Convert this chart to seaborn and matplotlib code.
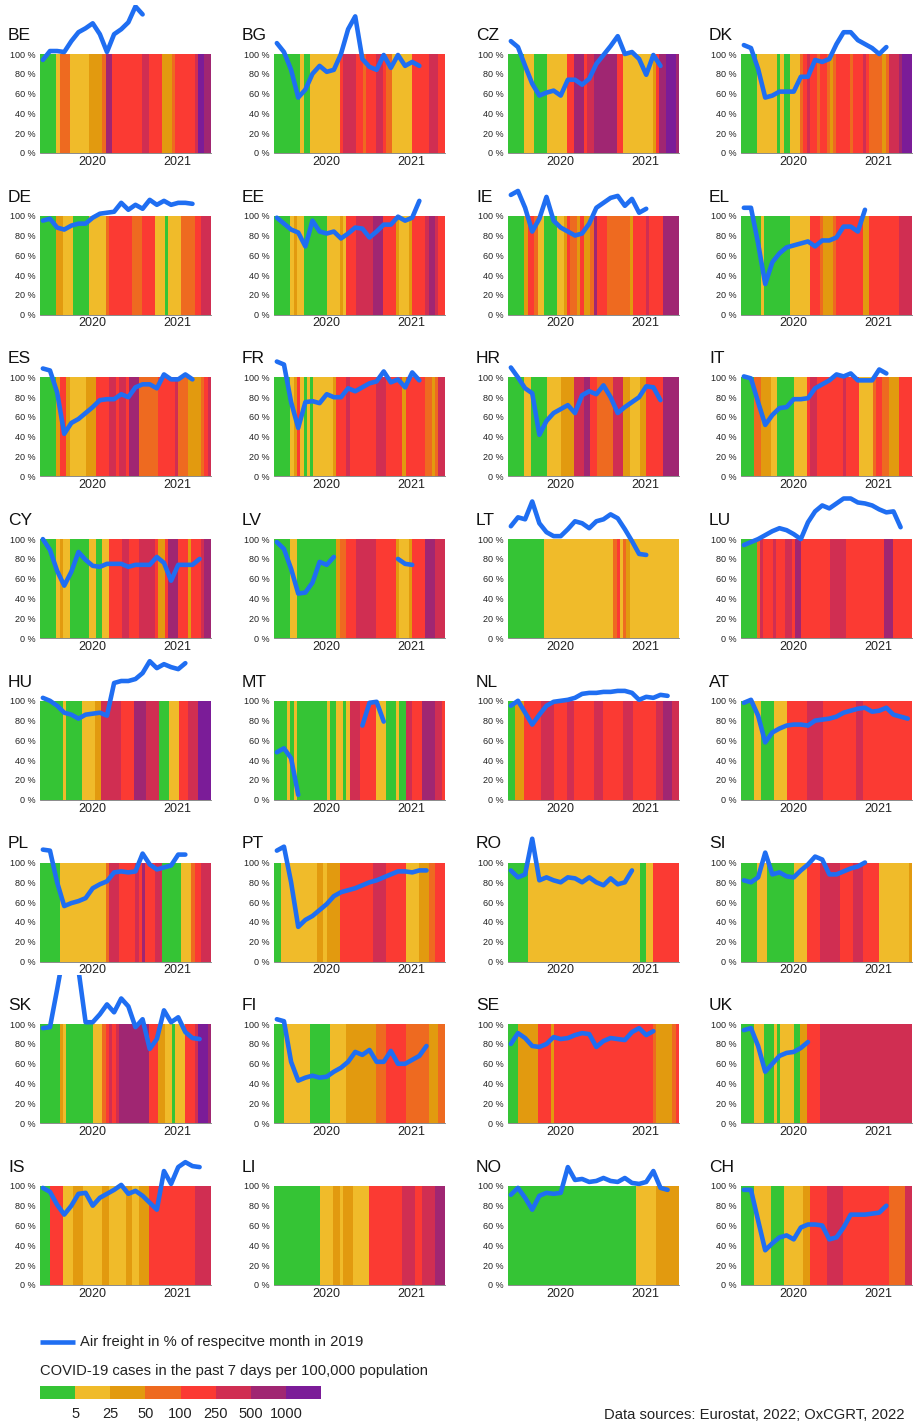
import numpy as np
import matplotlib.pyplot as plt
import seaborn as sns
from matplotlib.colors import ListedColormap
from matplotlib.transforms import Bbox, TransformedBbox

sns.set_style("white")
plt.rcParams["font.family"] = ["Liberation Sans", "DejaVu Sans"]

nan = np.nan

# COVID-19 class per fortnight, Jan 2020 - Dec 2021
# 0: <5, 1: 5-25, 2: 25-50, 3: 50-100, 4: 100-250, 5: 250-500, 6: 500-1000, 7: >1000
# air freight: % of the same month in 2019, one value per month from Jan 2020
be_cases = "00000" "1" "333" "111111" "2222" "3" "66" "444444444" "55" "4444" "222" "3" "444444" "5" "77" "66"
be_freight = [94, 103, 103, 102, 113, 122, 126, 131, 120, 102, 120, 125, 132, 148, 140]

bg_cases = "00000000" "1" "00" "111111111" "4" "5555" "44" "3" "444" "55" "43" "3" "111111" "44444" "555" "44"
bg_freight = [111, 102, 84, 56, 64, 80, 88, 82, 84, 100, 125, 138, 95, 87, 84, 99, 86, 99, 88, 92, 88]

cz_cases = "00000" "111" "0000" "111111" "44" "666" "4" "55" "6666666" "44" "111111111" "2" "4" "66" "777" "6"
cz_freight = [113, 107, 88, 70, 58, 61, 63, 58, 74, 74, 69, 75, 90, 99, 108, 118, 100, 102, 95, 79, 99, 88]

dk_cases = "00000" "111111" "0" "1" "00" "111" "3" "4" "5" "44" "3" "44" "3" "2" "3" "4444" "3" "444" "5" "4" "3333" "2" "3" "55" "5" "6" "77" "7"
dk_freight = [109, 106, 85, 56, 58, 62, 62, 62, 77, 77, 94, 92, 95, 110, 122, 122, 114, 110, 106, 100, 107]

de_cases = "00000" "22" "111" "00000" "11111" "3" "4444444" "333" "4444" "111" "0" "1111" "3333" "44" "555"
de_freight = [95, 97, 88, 86, 90, 92, 92, 98, 102, 103, 104, 113, 106, 111, 107, 116, 111, 115, 111, 113, 113, 112]

ee_cases = "00000" "1" "2" "11" "0000000" "1111" "2" "1" "444" "55555" "666" "4444" "2" "111" "2" "4444" "5" "66" "5" "44"
ee_freight = [98, 92, 86, 83, 69, 95, 84, 82, 84, 77, 82, 88, 87, 78, 84, 91, 91, 99, 95, 98, 115]

ie_cases = "00000" "2" "44" "3" "11" "0000" "11" "2" "4" "33" "2" "4" "22" "3" "6" "444" "3333333" "2" "4444" "5" "4444" "66666"
ie_freight = [121, 125, 108, 84, 97, 119, 95, 88, 84, 80, 82, 92, 108, 113, 118, 120, 110, 117, 103, 107]

el_cases = "000000" "1" "00000000" "111111" "444" "3" "222" "3" "4" "4444444" "22" "444444444" "5555"
el_freight = [108, 108, 72, 31, 53, 62, 68, 70, 72, 74, 69, 75, 75, 78, 89, 89, 84, 106]

es_cases = "00000" "2" "44" "2" "11111" "222" "4444" "55" "4" "55" "4" "666" "333333" "44444" "5" "333" "2222" "34" "5"
es_freight = [109, 107, 85, 43, 54, 58, 64, 70, 77, 78, 78, 83, 80, 90, 93, 93, 89, 103, 98, 98, 103, 98]

fr_cases = "00000" "1" "2" "4" "1" "0101" "11111" "2" "444" "5" "44444444" "555" "44444" "2" "444444" "33" "2" "3" "55"
fr_freight = [116, 113, 75, 49, 75, 76, 74, 83, 80, 80, 89, 86, 90, 94, 96, 106, 95, 98, 90, 105, 97]

hr_cases = "00000" "11" "00000" "1111" "2222" "555" "66" "44" "33333" "555" "22" "111" "22" "44444" "66666"
hr_freight = [110, 100, 89, 84, 42, 56, 64, 68, 72, 64, 82, 86, 83, 92, 80, 64, 70, 75, 80, 91, 90, 77]

it_cases = "0000" "33" "222" "11" "00000" "1111" "4" "55" "44444444" "5" "4444" "1111" "3" "44" "33" "222" "4444"
it_freight = [101, 99, 75, 52, 62, 69, 70, 78, 78, 79, 89, 93, 97, 103, 101, 104, 97, 97, 97, 108, 104]

cy_cases = "00000" "1" "2" "11" "000000" "11" "00" "11" "4444" "55" "444" "55555" "4" "22" "4" "666" "444" "2" "444" "5" "66"
cy_freight = [100, 89, 68, 53, 67, 87, 79, 73, 72, 75, 75, 75, 72, 74, 74, 74, 82, 76, 58, 74, 74, 74, 80]

lv_cases = "00000" "11" "000000000000" "2" "33" "444" "555555" "444444" "2111" "2" "4444" "666" "555"
lv_freight = [97, 90, 70, 45, 46, 56, 77, 74, 82, nan, nan, nan, nan, nan, nan, nan, nan, 80, 75, 74]

lt_cases = "00000000000" "111111111111111111111" "3" "4" "1" "3" "2" "111111111111111"
lt_freight = [113, 122, 120, 138, 116, 107, 103, 103, 110, 118, 116, 111, 118, 120, 125, 121, 110, 98, 85, 84]

lu_cases = "00000" "3544454" "4455" "466444444444" "55555" "444444444444" "666" "444444"
lu_freight = [94, 97, 100, 104, 108, 111, 109, 105, 100, 117, 128, 134, 131, 136, 141, 141, 137, 136, 134, 130, 127, 128, 112]

hu_cases = "0000000" "1" "00000" "1111" "22" "555555" "4444" "6666" "5555" "000" "111" "444" "555" "7777"
hu_freight = [103, 100, 95, 88, 86, 82, 86, 87, 88, 85, 118, 120, 120, 122, 128, 140, 133, 137, 134, 132, 138]

mt_cases = "0000101000000000100110155544444111000100554446666554"
mt_freight = [48, 52, 42, 5, nan, nan, nan, nan, nan, nan, nan, nan, 75, 98, 99, 79]

nl_cases = "0022244444555544445544444455544444455544444445566655"
nl_freight = [95, 100, 88, 76, 86, 95, 99, 100, 101, 103, 107, 108, 108, 109, 109, 110, 110, 108, 101, 104, 103, 106, 105]

at_cases = "0000110000111144444455555444444444455444444444444444"
at_freight = [98, 101, 85, 58, 68, 72, 75, 76, 76, 75, 80, 81, 82, 84, 88, 90, 92, 93, 89, 90, 93, 86, 84, 82]

pl_cases = "000000" "11111111111111" "3" "555" "44444" "5" "4" "6" "444" "55" "000000" "111" "3" "44" "555"
pl_freight = [113, 112, 80, 56, 59, 61, 64, 74, 78, 81, 90, 91, 90, 91, 109, 98, 93, 95, 97, 108, 108]

pt_cases = "0011111111111221222244444444445555444444111122233444"
pt_freight = [112, 116, 80, 35, 42, 46, 52, 58, 66, 70, 72, 74, 77, 80, 82, 85, 88, 91, 91, 90, 92, 92]

ro_cases = "0000001111111111111111111111111111111111001144444444"
ro_freight = [92, 85, 88, 124, 82, 85, 82, 80, 85, 84, 80, 85, 80, 77, 84, 78, 80, 92]

si_cases = "0000011100000000111144445555554444555444441111111112"
si_freight = [82, 80, 85, 110, 88, 90, 86, 85, 92, 98, 106, 103, 88, 88, 91, 94, 96, 100]

sk_cases = "000000" "2" "1" "00000000" "111" "34" "545" "666666666" "444" "22" "11" "0" "111" "444" "5" "777" "6"
sk_freight = [96, 97, 135, 175, 175, 155, 102, 102, 110, 120, 112, 126, 118, 97, 105, 75, 85, 114, 102, 107, 92, 86, 85]

fi_cases = "0001111111100000011111222222222333444444333333322233"
fi_freight = [105, 103, 62, 43, 46, 48, 46, 47, 52, 56, 62, 72, 69, 74, 62, 62, 73, 60, 60, 64, 68, 78]

se_cases = "0002222224444244444444444444444444444444444432222234"
se_freight = [80, 91, 86, 78, 77, 80, 87, 85, 86, 89, 91, 90, 77, 83, 86, 85, 84, 92, 96, 89, 93]

uk_cases = "0000111000101111002244445555555555555555555555555555"
uk_freight = [94, 96, 78, 52, 60, 68, 71, 72, 76, 82]

is_cases = "0004444111222111111221111122112224444444444444455555"
is_freight = [98, 94, 81, 71, 80, 92, 93, 80, 88, 92, 96, 101, 92, 95, 90, 83, 76, 115, 102, 119, 124, 120, 119]

li_cases = "0000000000000011112212221111144444444445555445555666"
li_freight = []

no_cases = "0000000000000000000000000000000000000001111112222222"
no_freight = [91, 98, 88, 76, 90, 93, 92, 93, 119, 106, 107, 104, 105, 108, 105, 104, 108, 103, 102, 104, 115, 98, 96]

ch_cases = "0000111110000111111224444455555444444444444443333355"
ch_freight = [96, 96, 65, 35, 42, 48, 50, 46, 58, 61, 61, 60, 46, 48, 58, 71, 71, 71, 72, 73, 80]

panels = [
    ("BE", be_cases, be_freight), ("BG", bg_cases, bg_freight), ("CZ", cz_cases, cz_freight), ("DK", dk_cases, dk_freight),
    ("DE", de_cases, de_freight), ("EE", ee_cases, ee_freight), ("IE", ie_cases, ie_freight), ("EL", el_cases, el_freight),
    ("ES", es_cases, es_freight), ("FR", fr_cases, fr_freight), ("HR", hr_cases, hr_freight), ("IT", it_cases, it_freight),
    ("CY", cy_cases, cy_freight), ("LV", lv_cases, lv_freight), ("LT", lt_cases, lt_freight), ("LU", lu_cases, lu_freight),
    ("HU", hu_cases, hu_freight), ("MT", mt_cases, mt_freight), ("NL", nl_cases, nl_freight), ("AT", at_cases, at_freight),
    ("PL", pl_cases, pl_freight), ("PT", pt_cases, pt_freight), ("RO", ro_cases, ro_freight), ("SI", si_cases, si_freight),
    ("SK", sk_cases, sk_freight), ("FI", fi_cases, fi_freight), ("SE", se_cases, se_freight), ("UK", uk_cases, uk_freight),
    ("IS", is_cases, is_freight), ("LI", li_cases, li_freight), ("NO", no_cases, no_freight), ("CH", ch_cases, ch_freight),
]

class_colors = ["#35c435", "#f0bb2a", "#e29a0f", "#ee6a20", "#fb3a33", "#d02e52", "#a02672", "#7b1c98"]
class_bounds = ["5", "25", "50", "100", "250", "500", "1000"]
years = ["2020", "2021"]
BLUE = "#1f6ef2"
TXT = "#222222"

cmap = ListedColormap(class_colors)
W, H = 914, 1423
fig = plt.figure(figsize=(W / 100, H / 100), dpi=100)

col_left = [40, 274, 508, 741]
box_w, box_h = 171, 99


def draw_panel(ax, code, cases, freight):
    row = np.array([[int(c) for c in cases]])
    n = row.shape[1]
    sns.heatmap(row, ax=ax, cmap=cmap, vmin=-0.5, vmax=7.5, cbar=False,
                xticklabels=False, yticklabels=False)
    ax.set_xlim(0, n)
    ax.set_ylim(0, 1)

    ax.set_yticks(np.linspace(0, 1, 6))
    ax.set_yticklabels([f"{v} %" for v in range(0, 101, 20)], fontsize=6.5, color=TXT)
    ax.tick_params(axis="y", length=0, pad=3)
    ax.set_xticks([0, n / 2, n])
    ax.set_xticklabels([])
    ax.set_xticks([n * 0.305, n * 0.805], minor=True)
    ax.set_xticklabels(years, minor=True, fontsize=9, color=TXT)
    ax.tick_params(axis="x", which="major", length=4, width=0.8, color="#555555", direction="out")
    ax.tick_params(axis="x", which="minor", length=0, pad=2)
    for s in ["top", "right", "left"]:
        ax.spines[s].set_visible(False)
    ax.spines["bottom"].set_visible(True)
    ax.spines["bottom"].set_color("#777777")
    ax.spines["bottom"].set_linewidth(0.6)

    # freight line, split where data is missing, clipped at ~150 %
    f = np.array(freight, dtype=float)
    x = (np.arange(len(f)) + 0.4) * n / 24
    clip = TransformedBbox(Bbox([[-2, -0.2], [n + 2, 1.5]]), ax.transData)
    start = None
    for i in range(len(f) + 1):
        valid = i < len(f) and not np.isnan(f[i])
        if valid and start is None:
            start = i
        elif not valid and start is not None:
            sl = slice(start, i)
            sns.lineplot(x=x[sl], y=f[sl] / 100, ax=ax, color=BLUE, linewidth=3.3,
                         solid_capstyle="round", solid_joinstyle="round")
            line = ax.lines[-1]
            line.set_clip_path(None)
            line.set_clip_box(clip)
            start = None
    ax.set_xlabel("")
    ax.set_ylabel("")


for k, (code, cases, freight) in enumerate(panels):
    r, c = divmod(k, 4)
    top = 54 + r * 161.7
    ax = fig.add_axes([col_left[c] / W, 1 - (top + box_h) / H, box_w / W, box_h / H])
    draw_panel(ax, code, cases, freight)
    fig.text((col_left[c] - 32) / W, 1 - (top - 14) / H, code, fontsize=12.5,
             color="#111111", ha="left", va="baseline")

# legend: freight line
fig.add_artist(plt.Line2D([40 / W, 75 / W], [1 - 1342 / H, 1 - 1342 / H], color=BLUE,
                          linewidth=3.3, solid_capstyle="butt"))
fig.text(80 / W, 1 - 1342 / H, "Air freight in % of respecitve month in 2019",
         fontsize=10.6, color=TXT, va="center", ha="left")
fig.text(40 / W, 1 - 1371 / H, "COVID-19 cases in the past 7 days per 100,000 population",
         fontsize=10.6, color=TXT, va="center", ha="left")

# legend: case classes
lax = fig.add_axes([40 / W, 1 - 1399 / H, 281 / W, 13 / H])
sns.heatmap(np.arange(8).reshape(1, 8), ax=lax, cmap=cmap, vmin=-0.5, vmax=7.5, cbar=False,
            xticklabels=False, yticklabels=False)
lax.set_xlim(0, 8)
lax.set_xticks(range(1, 8))
lax.set_xticklabels(class_bounds, fontsize=10.5, color=TXT)
lax.tick_params(axis="x", length=5, width=0.8, color="#333333", direction="out", pad=1)
lax.tick_params(axis="y", length=0)

fig.text(905 / W, 1 - 1415 / H, "Data sources: Eurostat, 2022; OxCGRT, 2022",
         fontsize=10.6, color=TXT, va="center", ha="right")

fig.savefig("out.png", dpi=100)
